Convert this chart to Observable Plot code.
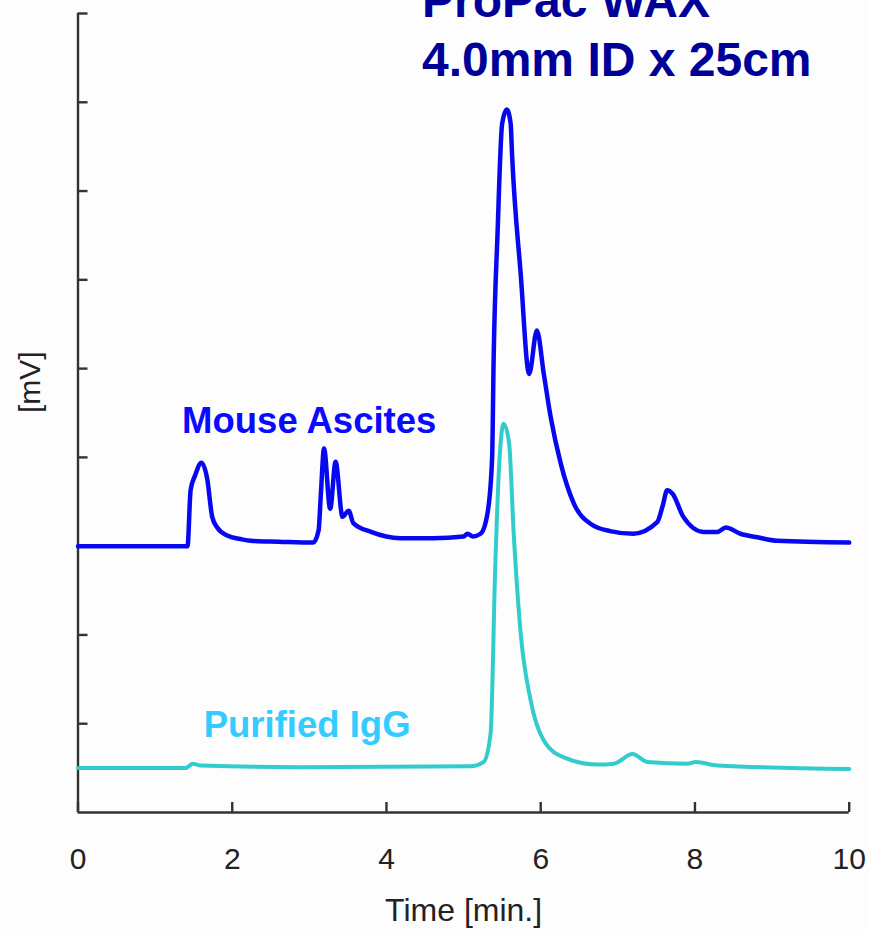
<!DOCTYPE html>
<html>
<head>
<meta charset="utf-8">
<script src="https://cdn.jsdelivr.net/npm/d3@7"></script>
<script src="https://cdn.jsdelivr.net/npm/@observablehq/plot@0.6"></script>
<style>
  html, body { margin: 0; padding: 0; background: #fdfdfd; }
</style>
</head>
<body>
<div id="chart"></div>
<script>
// Time axis ticks and y ticks
const xTicks = [0, 2, 4, 6, 8, 10];
const yTicks = [1, 2, 3, 4, 5, 6, 7, 8, 9];

// Mouse Ascites trace (time in min, signal in arbitrary mV units)
const ascitesTime = [0, 1.42, 1.46, 1.52, 1.60, 1.675, 1.74, 1.805, 1.935, 2.107, 2.24, 2.6, 3.05, 3.12, 3.15, 3.19, 3.27, 3.34, 3.43, 3.51, 3.57, 3.8, 4.18, 4.6, 5.0, 5.05, 5.12, 5.22, 5.31, 5.37, 5.39, 5.44, 5.50, 5.56, 5.61, 5.63, 5.74, 5.85, 5.95, 6.04, 6.13, 6.26, 6.43, 6.65, 6.9, 7.20, 7.51, 7.58, 7.64, 7.71, 7.85, 8.11, 8.29, 8.40, 8.59, 8.81, 9.07, 10];
const ascitesMv   = [3.00, 3.00, 3.63, 3.80, 3.94, 3.76, 3.33, 3.21, 3.12, 3.08, 3.06, 3.05, 3.04, 3.18, 3.60, 4.10, 3.42, 3.95, 3.33, 3.40, 3.26, 3.16, 3.09, 3.09, 3.11, 3.14, 3.11, 3.14, 3.37, 4.00, 5.13, 6.52, 7.76, 7.92, 7.76, 7.38, 6.07, 4.94, 5.43, 4.94, 4.45, 3.93, 3.48, 3.25, 3.17, 3.14, 3.27, 3.45, 3.63, 3.59, 3.33, 3.16, 3.16, 3.21, 3.14, 3.10, 3.06, 3.04];

// Purified IgG trace
const iggTime = [0, 1.39, 1.49, 1.59, 2.88, 5.09, 5.26, 5.35, 5.41, 5.46, 5.52, 5.59, 5.65, 5.74, 5.87, 6.04, 6.30, 6.73, 6.95, 7.19, 7.38, 7.90, 8.01, 8.29, 10];
const iggMv   = [0.50, 0.50, 0.55, 0.53, 0.51, 0.52, 0.57, 0.89, 2.76, 3.89, 4.38, 4.16, 3.14, 2.02, 1.26, 0.81, 0.62, 0.54, 0.55, 0.66, 0.57, 0.55, 0.57, 0.53, 0.49];

// Annotations (data coordinates)
const titleLines = ["ProPac WAX", "4.0mm ID x 25cm"];
const titleX = [4.46, 4.46];
const titleY = [8.96, 8.30];
const seriesLabels = ["Mouse Ascites", "Purified IgG"];
const seriesLabelX = [1.35, 1.63];
const seriesLabelY = [4.28, 0.85];

const ascites = ascitesTime.map((t, i) => ({t, v: ascitesMv[i]}));
const igg = iggTime.map((t, i) => ({t, v: iggMv[i]}));
const titles = titleLines.map((s, i) => ({s, x: titleX[i], y: titleY[i]}));
const labels = seriesLabels.map((s, i) => ({s, x: seriesLabelX[i], y: seriesLabelY[i]}));

const FONT = "'Liberation Sans', Arial, Helvetica, sans-serif";

const chart = Plot.plot({
  width: 869,
  height: 930,
  marginLeft: 77.5,
  marginRight: 20.3,
  marginTop: 13,
  marginBottom: 118,
  style: {fontFamily: FONT, background: "#fdfdfd", overflow: "visible"},
  x: {domain: [0, 10]},
  y: {domain: [0, 9]},
  marks: [
    // axis lines
    Plot.ruleX([0], {stroke: "#333", strokeWidth: 2.4}),
    Plot.ruleY([0], {stroke: "#333", strokeWidth: 2.4}),
    // inward ticks
    Plot.axisY({ticks: yTicks, tickSize: 10, dx: 10, fill: "none", stroke: "#333", strokeWidth: 2.4, label: null}),
    Plot.axisX({ticks: xTicks, tickSize: 10, dy: -10, fill: "none", stroke: "#333", strokeWidth: 2.4, label: null}),
    // tick labels
    Plot.axisX({ticks: xTicks, tickSize: 0, tickPadding: 35, stroke: "none", fill: "#222", fontSize: 30, label: null}),
    // axis titles
    Plot.text(["Time [min.]"], {frameAnchor: "bottom", dy: 98, fontSize: 32, fill: "#222", lineAnchor: "middle", clip: false}),
    Plot.text(["[mV]"], {frameAnchor: "left", dx: -48, rotate: -90, fontSize: 30, fill: "#222", lineAnchor: "middle", clip: false}),
    // traces
    Plot.line(igg, {x: "t", y: "v", stroke: "#33cccc", strokeWidth: 4, curve: "monotone-x"}),
    Plot.line(ascites, {x: "t", y: "v", stroke: "#0808f0", strokeWidth: 4.5, curve: "monotone-x"}),
    // series labels
    Plot.text(labels, {x: "x", y: "y", text: "s", textAnchor: "start", lineAnchor: "bottom", fontSize: 36.5, fontWeight: "bold",
      fill: (d, i) => i === 0 ? "#0a0aff" : "#33ccff"}),
    // title
    Plot.text(titles, {x: "x", y: "y", text: "s", textAnchor: "start", lineAnchor: "bottom", fontSize: 48, fontWeight: "bold", fill: "#000099", clip: false})
  ]
});

document.getElementById("chart").appendChild(chart);
</script>
</body>
</html>
